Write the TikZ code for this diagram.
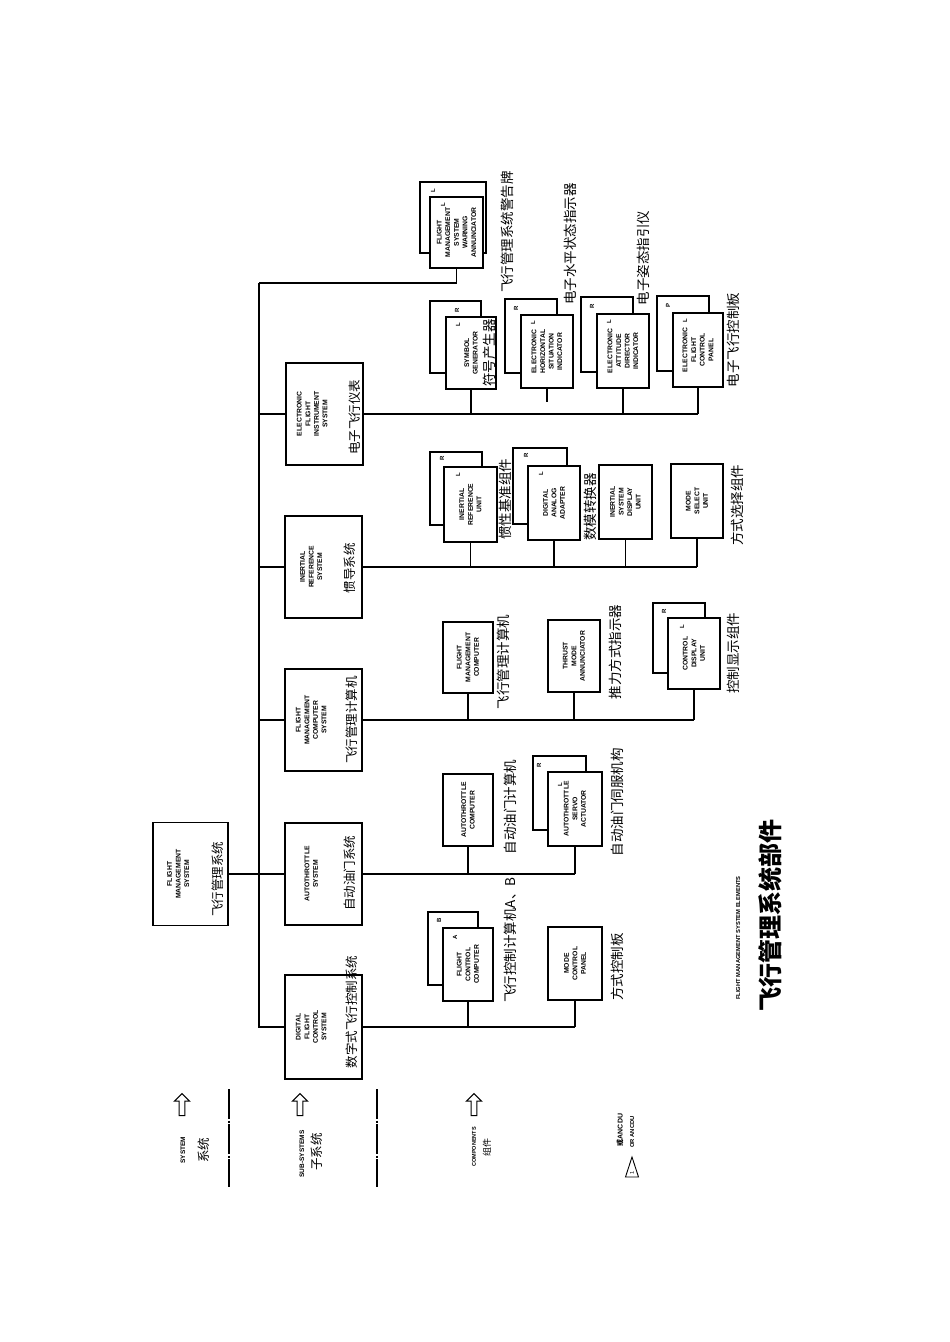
\documentclass[tikz,border=0pt]{standalone}
\usepackage{fontspec}
\usetikzlibrary{shapes.arrows,shapes.geometric}
\newfontfamily\cjk{Noto Sans CJK SC}
\newfontfamily\enf{Liberation Sans}[BoldFont={Liberation Sans Bold}]
\newcommand\enfont{\enf\bfseries\fontsize{6.8}{8.6}\selectfont}
\begin{document}
\begin{tikzpicture}[x=1pt,y=-1pt,
 bx/.style={draw, line width=1.1pt, fill=white, rotate=90, inner sep=1pt, align=center, font=\enfont},
 bk/.style={draw, line width=1.1pt, fill=white, rotate=90, inner sep=0pt},
 lbl/.style={rotate=90, inner sep=0pt, font=\cjk\fontsize{13.5}{14}\selectfont},
 sl/.style={rotate=90, inner sep=0pt, font=\cjk\fontsize{12.5}{13}\selectfont},
 lt/.style={rotate=90, inner sep=0pt, font=\enf\bfseries\fontsize{6}{6}\selectfont},
 ln/.style={line width=1.1pt},
 uparr/.style={single arrow, draw, line width=1.1pt, rotate=90, minimum height=22pt, minimum width=15pt, single arrow head extend=2.5pt, inner sep=1pt},
 sm/.style={rotate=90, inner sep=0pt, align=center, font=\enf\bfseries\fontsize{5.8}{7}\selectfont}]
\useasboundingbox (0,0) rectangle (950,1342);
\fill[white] (0,0) rectangle (950,1342);
% system
\node[bx, minimum width=103pt, minimum height=75pt] (fms) at (190.5,874) {FLIGHT\\MANAGEMENT\\SYSTEM\\[16pt]};
\node[sl] (fmsl) at (218,879) {飞行管理系统};
% subsystems
\node[bx, minimum width=104pt, minimum height=77pt] (dfcs) at (323.5,1027) {DIGITAL\\FLIGHT\\CONTROL\\SYSTEM\\[16pt]};
\node[bx, minimum width=102pt, minimum height=77pt] (ats) at (323.5,874) {AUTOTHROTTLE\\SYSTEM\\[16pt]};
\node[bx, minimum width=102pt, minimum height=77pt] (fmcs) at (323.5,720) {FLIGHT\\MANAGEMENT\\COMPUTER\\SYSTEM\\[16pt]};
\node[bx, minimum width=102pt, minimum height=77pt] (irs) at (323.5,567) {INERTIAL\\REFERENCE\\SYSTEM\\[16pt]};
\node[bx, minimum width=102pt, minimum height=77pt] (efis) at (324.5,414) {ELECTRONIC\\FLIGHT\\INSTRUMENT\\SYSTEM\\[16pt]};
\node[sl] (dfcsl) at (352,1012) {数字式飞行控制系统};
\node[sl] (atsl) at (350,873) {自动油门系统};
\node[sl] (fmcsl) at (352,720) {飞行管理计算机};
\node[sl] (irsl) at (350,568) {惯导系统};
\node[sl] (efisl) at (355,417) {电子飞行仪表};
% main bus
\coordinate (top) at (259,283);
\draw[ln] (fms.south) -- (ats.north);
\draw[ln] (top) -- (top |- dfcs.north) -- (dfcs.north);
\foreach \s in {fmcs,irs,efis} \draw[ln] (top |- \s.north) -- (\s.north);
% DFCS components
\node[bk, minimum width=73pt, minimum height=50pt] (fccb) at (453,948.5) {};
\node[bx, minimum width=73pt, minimum height=50pt] (fcc) at (468,964.5) {FLIGHT\\CONTROL\\COMPUTER};
\node[bx, minimum width=73pt, minimum height=54pt] (mcp) at (575,963.5) {MODE\\CONTROL\\PANEL};
\node[lt] (fccbB) at (439,920) {B};
\node[lt] (fccA) at (455,937) {A};
\draw[ln] (dfcs.south) -- (mcp.west |- dfcs.south);
\foreach \s in {fcc,mcp} \draw[ln] (\s.west) -- (\s.west |- dfcs.south);
\node[lbl] (fccl) at (510,940) {飞行控制计算机A、B};
\node[lbl] (mcpl) at (617,967) {方式控制板};
% ATS components
\node[bx, minimum width=72pt, minimum height=50pt] (atc) at (468,810) {AUTOTHROTTLE\\COMPUTER};
\node[bk, minimum width=74pt, minimum height=53pt] (asab) at (559.5,793) {};
\node[bx, minimum width=74pt, minimum height=54pt] (asa) at (575,809) {AUTOTHROTTLE\\SERVO\\ACTUATOR};
\node[lt] (asabR) at (539,765) {R};
\node[lt] (asaL) at (560,785) {L};
\draw[ln] (ats.south) -- (asa.west |- ats.south);
\foreach \s in {atc,asa} \draw[ln] (\s.west) -- (\s.west |- ats.south);
\node[lbl] (atcl) at (510,807) {自动油门计算机};
\node[lbl] (asal) at (617,802) {自动油门伺服机构};
% FMCS components
\node[bx, minimum width=71pt, minimum height=50pt] (fmc) at (468,657.5) {FLIGHT\\MANAGEMENT\\COMPUTER};
\node[bx, minimum width=72pt, minimum height=52pt] (tma) at (574,656) {THRUST\\MODE\\ANNUNCIATOR};
\node[bk, minimum width=70pt, minimum height=52pt] (cdub) at (679,638) {};
\node[bx, minimum width=71pt, minimum height=52pt] (cdu) at (694,653.5) {CONTROL\\DISPLAY\\UNIT};
\node[lt] (cdubR) at (664,611) {R};
\node[lt] (cduL) at (682,627) {L};
\draw[ln] (fmcs.south) -- (cdu.west |- fmcs.south);
\foreach \s in {fmc,tma,cdu} \draw[ln] (\s.west) -- (\s.west |- fmcs.south);
\node[lbl] (fmcl) at (503,662) {飞行管理计算机};
\node[lbl] (tmal) at (615,652) {推力方式指示器};
\node[lbl] (cdul) at (733,653) {控制显示组件};
% IRS components
\node[bk, minimum width=73pt, minimum height=52pt] (irub) at (456,488.5) {};
\node[bx, minimum width=75pt, minimum height=53pt] (iru) at (470.5,504.5) {INERTIAL\\REFERENCE\\UNIT};
\node[bk, minimum width=76pt, minimum height=54pt] (daab) at (540,486) {};
\node[bx, minimum width=74pt, minimum height=52pt] (daa) at (554,503) {DIGITAL\\ANALOG\\ADAPTER};
\node[bx, minimum width=74pt, minimum height=53pt] (isdu) at (625.5,502) {INERTIAL\\SYSTEM\\DISPLAY\\UNIT};
\node[bx, minimum width=74pt, minimum height=52pt] (msu) at (697,501) {MODE\\SELECT\\UNIT};
\node[lt] (irubR) at (442,458) {R};
\node[lt] (iruL) at (458,475) {L};
\node[lt] (daabR) at (526,455) {R};
\node[lt] (daaL) at (541,474) {L};
\draw[ln] (irs.south) -- (msu.west |- irs.south);
\foreach \s in {iru,daa,isdu,msu} \draw[ln] (\s.west) -- (\s.west |- irs.south);
\node[lbl] (irul) at (505,499) {惯性基准组件};
\node[lbl] (daal) at (590,507) {数模转换器};
\node[lbl] (msul) at (737,505) {方式选择组件};
% EFIS components
\node[bk, minimum width=71pt, minimum height=66pt] (annb) at (453,217.5) {};
\node[bx, minimum width=71pt, minimum height=53pt] (ann) at (456.5,232.5) {FLIGHT\\MANAGEMENT\\SYSTEM\\WARNING\\ANNUNCIATOR};
\node[lt] (annbL) at (433,191) {L};
\node[lt] (annL) at (443,205) {L};
\draw[ln] (ann.west) -- (ann.west |- top) -- (top);
\node[bk, minimum width=72pt, minimum height=51pt] (sgb) at (455.5,337) {};
\node[bx, minimum width=72pt, minimum height=50pt] (sg) at (471,353) {SYMBOL\\GENERATOR};
\node[bk, minimum width=74pt, minimum height=52pt] (ehsib) at (531,336) {};
\node[bx, minimum width=73pt, minimum height=52pt] (ehsi) at (547,351.5) {ELECTRONIC\\HORIZONTAL\\SITUATION\\INDICATOR};
\node[bk, minimum width=75pt, minimum height=52pt] (eadib) at (607,334.5) {};
\node[bx, minimum width=74pt, minimum height=52pt] (eadi) at (623,351) {ELECTRONIC\\ATTITUDE\\DIRECTOR\\INDICATOR};
\node[bk, minimum width=75pt, minimum height=52pt] (efcpb) at (683,333.5) {};
\node[bx, minimum width=74pt, minimum height=50pt] (efcp) at (698,350) {ELECTRONIC\\FLIGHT\\CONTROL\\PANEL};
\foreach \s/\x/\y in {sg/446/301,ehsi/505/299,eadi/581/297} \node[lt] (\s R) at (\x+11,\y+9) {R};
\node[lt] (efcpP) at (668,305) {P};
\foreach \s/\x/\y in {sg/446/317,ehsi/521/315,eadi/597/314,efcp/673/313} \node[lt] (\s L) at (\x+12,\y+8) {L};
\draw[ln] (efis.south) -- (efcp.west |- efis.south);
\foreach \s in {sg,eadi,efcp} \draw[ln] (\s.west) -- (\s.west |- efis.south);
\coordinate (stub) at (547,402);
\draw[ln] (ehsi.west) -- (stub);
\node[lbl] (sgl) at (489,353) {符号产生器};
\node[lbl] (ehsil) at (570,244) {电子水平状态指示器};
\node[lbl] (eadil) at (643,258) {电子姿态指引仪};
\node[lbl] (efcpl) at (733,340) {电子飞行控制板};
\node[lbl] (annl) at (507,232) {飞行管理系统警告牌};
% title
\node[sm] (te) at (738,938) {FLIGHT MANAGEMENT SYSTEM ELEMENTS};
\node[rotate=90, inner sep=0pt, font=\cjk\bfseries\fontsize{24}{24}\selectfont] (tc) at (770,915) {飞行管理系统部件};
% legend
\node[uparr] (a1) at (182,1106) {};
\node[uparr] (a2) at (300,1106) {};
\node[uparr] (a3) at (474,1106) {};
\node[sm, font=\enf\bfseries\fontsize{6.5}{7}\selectfont] (l1) at (183,1150) {SYSTEM};
\node[sl] (l1c) at (204,1150) {系统};
\node[sm, font=\enf\bfseries\fontsize{6.5}{7}\selectfont] (l2) at (302,1154) {SUB-SYSTEMS};
\node[sl] (l2c) at (317,1152) {子系统};
\node[sm, font=\enf\bfseries\fontsize{5.5}{6}\selectfont] (l3) at (474,1147) {COMPONENTS};
\node[sl, font=\cjk\fontsize{9}{9}\selectfont] (l3c) at (487,1147) {组件};
\coordinate (s1a) at (229,1089); \coordinate (s1b) at (229,1187);
\coordinate (s2a) at (377,1089); \coordinate (s2b) at (377,1187);
\draw[line width=1.3pt, dash pattern=on 30pt off 1.5pt on 2pt off 1.5pt] (s1a) -- (s1b);
\draw[line width=1.3pt, dash pattern=on 30pt off 1.5pt on 2pt off 1.5pt] (s2a) -- (s2b);
\node[rotate=90, inner sep=0pt, font=\enf\bfseries\fontsize{7}{7}\selectfont] (or1) at (620,1130) {{\cjk 或}ANCDU};
\node[sm] (or2) at (632,1132) {OR ANCDU};
\node[isosceles triangle, draw, line width=0.9pt, rotate=90, inner sep=1pt, minimum height=20pt, minimum width=13pt, isosceles triangle stretches, font=\enf\fontsize{5.5}{5.5}\selectfont] (tri) at (632,1173) {1};
\end{tikzpicture}
\end{document}
